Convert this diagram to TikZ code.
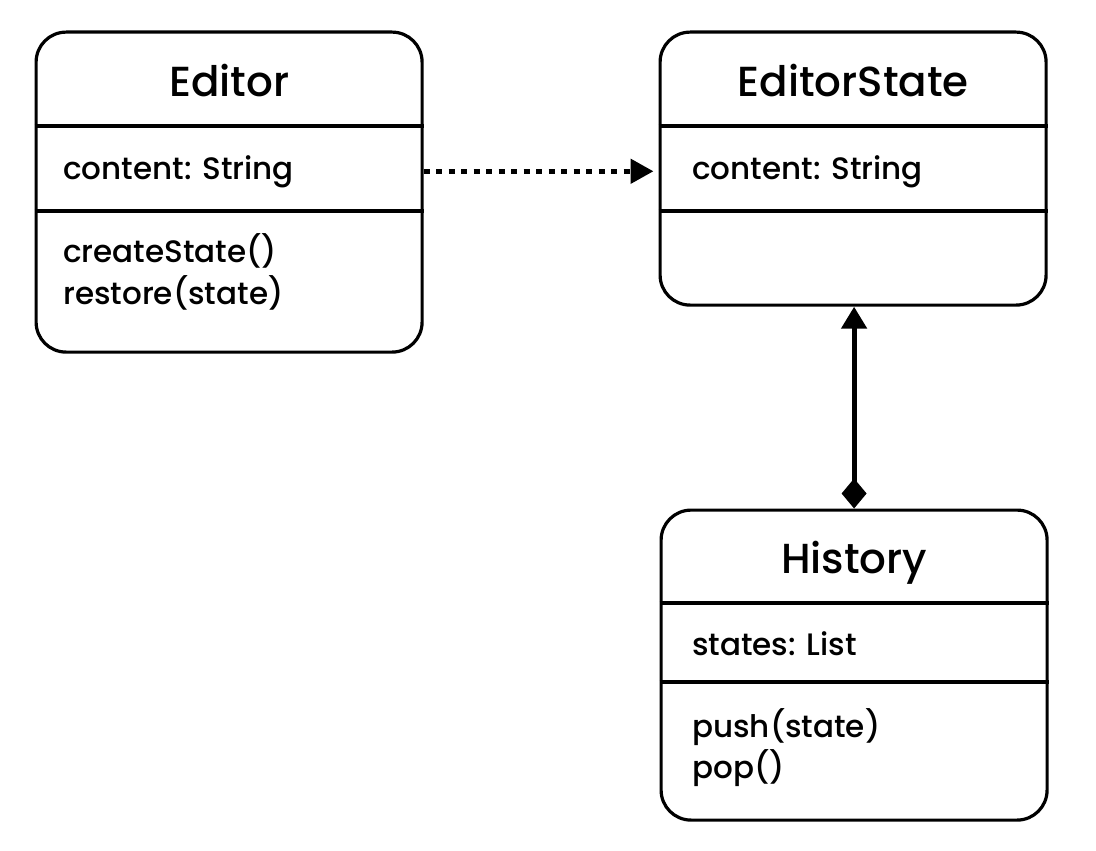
\documentclass[tikz,border=0pt]{standalone}
\usepackage{fontspec}
\setmainfont{Poppins}[UprightFont=* Medium]
\usetikzlibrary{arrows.meta}
\begin{document}
\begin{tikzpicture}[x=1pt,y=-1pt,
  umlbox/.style={draw,line width=3.2pt,rounded corners=30pt,anchor=north west,inner sep=0pt},
  divider/.style={line width=3.2pt},
  classname/.style={font=\fontsize{42}{50}\selectfont,anchor=base,inner sep=0pt},
  member/.style={font=\fontsize{31}{42}\selectfont,anchor=base west,inner sep=0pt},
  dep/.style={line width=5pt,dash pattern=on 6pt off 6.5pt,-{Triangle[length=23pt,width=24pt]},shorten >=5pt},
  comp/.style={line width=5pt,{Diamond[length=30pt,width=25pt]}-{Triangle[length=22pt,width=25pt]}}]
\useasboundingbox[fill=white] (0,0) rectangle (1096,851);

% Editor
\node[umlbox,minimum width=386pt,minimum height=320pt] (editor) at (34.5,30.5) {};
\node[classname] (editorname) at (editor.center |- 0,96) {Editor};
\draw[divider] (editor.west |- 0,126) -- (editor.east |- 0,126);
\node[member] (editorattr) at (63,179) {content: String};
\draw[divider] (editor.west |- 0,211) -- (editor.east |- 0,211);
\node[member] (editorop1) at (63,262) {createState()};
\node[member] (editorop2) at (63,304) {restore(state)};

% EditorState
\node[umlbox,minimum width=386pt,minimum height=273pt] (state) at (658.5,30.5) {};
\node[classname] (statename) at (state.center |- 0,96) {EditorState};
\draw[divider] (state.west |- 0,126) -- (state.east |- 0,126);
\node[member] (stateattr) at (692,179) {content: String};
\draw[divider] (state.west |- 0,211) -- (state.east |- 0,211);

% History
\node[umlbox,minimum width=386pt,minimum height=310pt] (history) at (659.5,508.5) {};
\node[classname] (historyname) at (history.center |- 0,573) {History};
\draw[divider] (history.west |- 0,603) -- (history.east |- 0,603);
\node[member] (historyattr) at (692,655) {states: List};
\draw[divider] (history.west |- 0,682) -- (history.east |- 0,682);
\node[member] (historyop1) at (692,737) {push(state)};
\node[member] (historyop2) at (692,778) {pop()};

% Relations
\draw[dep] (editor.east |- editorattr) -- (state.west |- editorattr);
\draw[comp] (history.north) -- (history.north |- state.south);
\end{tikzpicture}
\end{document}
